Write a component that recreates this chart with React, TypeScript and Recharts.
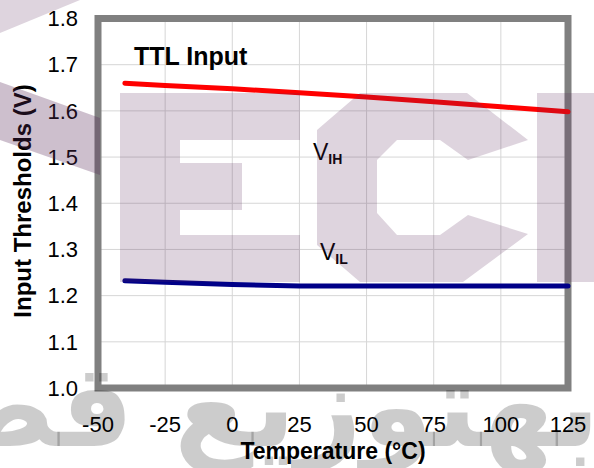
import React from "react";
import { LineChart, Line, XAxis, YAxis, CartesianGrid, ReferenceArea } from "recharts";

const temps = [-40, -25, 0, 25, 50, 75, 100, 125];
const vih = [1.66, 1.655, 1.648, 1.639, 1.63, 1.62, 1.609, 1.598];
const vil = [1.232, 1.229, 1.224, 1.221, 1.221, 1.221, 1.221, 1.221];
const xTicks = [-50, -25, 0, 25, 50, 75, 100, 125];
const yTicks = [1.0, 1.1, 1.2, 1.3, 1.4, 1.5, 1.6, 1.7, 1.8];

const data = temps.map((t, i) => ({ t, vih: vih[i], vil: vil[i] }));

const FONT = "'Liberation Sans', Arial, sans-serif";

export default function App() {
  return (
    <div style={{ position: "absolute", left: 0, top: 0, width: 594, height: 468, fontFamily: FONT, overflow: "hidden" }}>
      <LineChart
        width={594}
        height={468}
        data={data}
        margin={{ top: 18.5, right: 26, bottom: 0, left: 0 }}
        style={{ fontFamily: FONT }}
      >
        <CartesianGrid stroke="#d6d6d6" strokeWidth={1} />
        <XAxis
          dataKey="t"
          type="number"
          domain={[-50, 125]}
          ticks={xTicks}
          height={80}
          tickSize={0}
          tickMargin={28}
          axisLine={false}
          tick={{ fill: "#000", fontSize: 22, fontFamily: FONT }}
        />
        <YAxis
          type="number"
          domain={[1.0, 1.8]}
          ticks={yTicks}
          width={98}
          tickSize={0}
          tickMargin={20}
          axisLine={false}
          tickFormatter={(v: number) => v.toFixed(1)}
          tick={{ fill: "#000", fontSize: 22, fontFamily: FONT }}
        />
        <Line
          dataKey="vih"
          stroke="#ff0000"
          strokeWidth={5}
          strokeLinecap="round"
          dot={false}
          isAnimationActive={false}
        />
        <Line
          dataKey="vil"
          stroke="#000088"
          strokeWidth={5}
          strokeLinecap="round"
          dot={false}
          isAnimationActive={false}
        />
        <ReferenceArea
          x1={-50}
          x2={125}
          y1={1.0}
          y2={1.8}
          fill="none"
          fillOpacity={0}
          stroke="#808080"
          strokeWidth={7}
          strokeOpacity={1}
          ifOverflow="visible"
        />
      </LineChart>
      <svg
        width={594}
        height={468}
        style={{ position: "absolute", left: 0, top: 0, pointerEvents: "none" }}
      >
        <text x={134} y={65} fontSize={25} fontWeight="bold" fill="#000" fontFamily={FONT}>
          TTL Input
        </text>
        <text x={313} y={160} fontSize={23} fill="#000" fontFamily={FONT}>
          V<tspan fontSize={14} fontWeight="bold" dy={4}>IH</tspan>
        </text>
        <text x={320} y={260} fontSize={23} fill="#000" fontFamily={FONT}>
          V<tspan fontSize={14} fontWeight="bold" dy={4}>IL</tspan>
        </text>
        <text x={333} y={459} fontSize={23} fontWeight="bold" fill="#000" textAnchor="middle" fontFamily={FONT}>
          Temperature (°C)
        </text>
        <text
          x={31}
          y={201}
          fontSize={24}
          fontWeight="bold"
          fill="#000"
          textAnchor="middle"
          transform="rotate(-90, 31, 201)"
          fontFamily={FONT}
        >
          Input Thresholds (V)
        </text>
        <g fill="#5a2a5a" fillOpacity={0.2}>
          <path d="M0,0 L80,0 L0,33 Z" />
          <path d="M120,93 H300 V140 H180 V163 H242 V210 H180 V235 H300 V282 H120 Z" />
          <path d="M317,130 L360,93 H467 L528,140 L468,160 L440,140 H397 L377,160 V213 L397,235 H440 L468,215 L528,234 L463,282 H360 L317,245 Z" />
          <path d="M537,93 H594 V282 H537 Z" />
        </g>
        <path d="M0,82 L100,118 L100,175 L0,140 Z" fill="#5a2a5a" fillOpacity={0.3} />
        <text
          x={600}
          y={446}
          fontSize={115}
          fontWeight="bold"
          fill="#000"
          fillOpacity={0.2}
          textAnchor="end"
          fontFamily="'DejaVu Sans', sans-serif"
        >
          بهتوزیع قط
        </text>
      </svg>
    </div>
  );
}
